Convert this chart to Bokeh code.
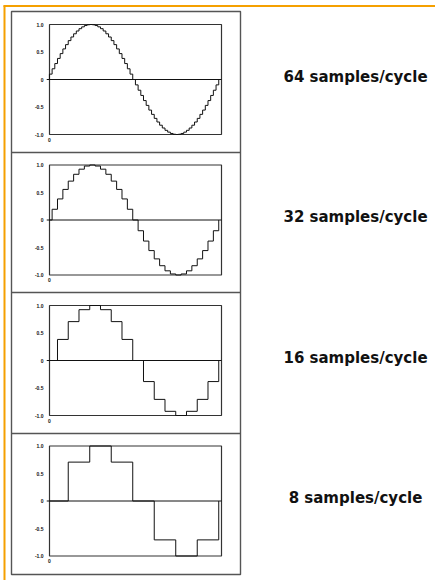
from bokeh.plotting import figure
from bokeh.models import (Range1d, FixedTicker, CustomJSTickFormatter, LinearAxis, Label)
from bokeh.embed import file_html
from bokeh.resources import INLINE

# ---------------- data ----------------
panel_labels = ["64 samples/cycle", "32 samples/cycle", "16 samples/cycle", "8 samples/cycle"]

samples_64 = [0.0, 0.098, 0.195, 0.290, 0.383, 0.471, 0.556, 0.634, 0.707, 0.773, 0.831,
              0.882, 0.924, 0.957, 0.981, 0.995, 1.0, 0.995, 0.981, 0.957, 0.924, 0.882,
              0.831, 0.773, 0.707, 0.634, 0.556, 0.471, 0.383, 0.290, 0.195, 0.098, 0.0,
              -0.098, -0.195, -0.290, -0.383, -0.471, -0.556, -0.634, -0.707, -0.773,
              -0.831, -0.882, -0.924, -0.957, -0.981, -0.995, -1.0, -0.995, -0.981,
              -0.957, -0.924, -0.882, -0.831, -0.773, -0.707, -0.634, -0.556, -0.471,
              -0.383, -0.290, -0.195, -0.098, 0.0]
samples_32 = [0.0, 0.195, 0.383, 0.556, 0.707, 0.831, 0.924, 0.981, 1.0, 0.981, 0.924,
              0.831, 0.707, 0.556, 0.383, 0.195, 0.0, -0.195, -0.383, -0.556, -0.707,
              -0.831, -0.924, -0.981, -1.0, -0.981, -0.924, -0.831, -0.707, -0.556,
              -0.383, -0.195, 0.0]
samples_16 = [0.0, 0.383, 0.707, 0.924, 1.0, 0.924, 0.707, 0.383, 0.0, -0.383, -0.707,
              -0.924, -1.0, -0.924, -0.707, -0.383, 0.0]
samples_8 = [0.0, 0.707, 1.0, 0.707, 0.0, -0.707, -1.0, -0.707, 0.0]

y_ticks = [-1.0, -0.5, 0.0, 0.5, 1.0]
x_tick_label = "0"

# ---------------- layout (page pixels) ----------------
W, H = 435, 580
FRAME_L, FRAME_W = 49, 172
FRAME_H = 110
frame_tops = [24, 164.5, 305, 445.5]
X0 = 0.016          # small offset of the cycle start against the frame

BOX_L, BOX_R, BOX_T, BOX_B = 11, 240, 11, 574
separators = [152, 292, 433]

p = figure(width=W, height=H, x_range=Range1d(0, W), y_range=Range1d(H, 0),
           min_border=0, toolbar_location=None, output_backend="svg",
           x_axis_location=None, y_axis_location=None,
           background_fill_color="white", border_fill_color="white",
           outline_line_color=None)
p.grid.visible = False

# the cycle axis shared by all panels
p.extra_x_ranges["cyc"] = Range1d(X0 + (0 - FRAME_L) / FRAME_W, X0 + (W - FRAME_L) / FRAME_W)

# orange page frame
p.segment(x0=[3, 4], y0=[5.5, 5], x1=[W, 4], y1=[5.5, H],
          line_color="#F5A000", line_width=2)

# outer box and separators
p.quad(left=[BOX_L], right=[BOX_R], top=[BOX_T], bottom=[BOX_B],
       fill_color=None, line_color="#555", line_width=1.4)
p.segment(x0=[BOX_L] * 3, x1=[BOX_R] * 3, y0=separators, y1=separators,
          line_color="#555", line_width=1.4)

all_samples = [samples_64, samples_32, samples_16, samples_8]

for i, vals in enumerate(all_samples):
    ft = frame_tops[i]
    yname = "y%d" % i

    def val(py, ft=ft):
        return 1 - (py - ft) * 2 / FRAME_H

    p.extra_y_ranges[yname] = Range1d(val(H), val(0))

    n = len(vals) - 1
    xs = [k / n for k in range(n + 1)]

    # plot frame
    p.quad(left=[X0], right=[1 + X0], bottom=[-1], top=[1],
           fill_color=None, line_color="#333", line_width=1.2,
           x_range_name="cyc", y_range_name=yname)
    # zero line
    p.segment(x0=[X0], x1=[1 + X0], y0=[0], y1=[0], line_color="#111", line_width=1,
              x_range_name="cyc", y_range_name=yname)
    # sampled sine
    p.step(xs, vals, mode="after", line_color="#111", line_width=1,
           x_range_name="cyc", y_range_name=yname)

    yax = LinearAxis(x_range_name="cyc", y_range_name=yname, fixed_location=X0,
                     ticker=FixedTicker(ticks=y_ticks),
                     formatter=CustomJSTickFormatter(
                         code="return tick == 0 ? '0' : tick.toFixed(1);"),
                     axis_line_color=None, major_tick_line_color=None,
                     major_tick_in=0, major_tick_out=0,
                     minor_tick_line_color=None, minor_tick_in=0, minor_tick_out=0,
                     major_label_standoff=6,
                     major_label_text_font="Liberation Sans",
                     major_label_text_font_size="5px",
                     major_label_text_font_style="bold",
                     major_label_text_color="#111")
    p.add_layout(yax, "left")

    xax = LinearAxis(x_range_name="cyc", y_range_name=yname, fixed_location=-1,
                     ticker=FixedTicker(ticks=[X0]),
                     formatter=CustomJSTickFormatter(code="return '%s';" % x_tick_label),
                     axis_line_color=None, major_tick_line_color=None,
                     major_tick_in=0, major_tick_out=0,
                     minor_tick_line_color=None, minor_tick_in=0, minor_tick_out=0,
                     major_label_standoff=3,
                     major_label_text_font="Liberation Sans",
                     major_label_text_font_size="5px",
                     major_label_text_font_style="bold",
                     major_label_text_color="#111")
    p.add_layout(xax, "below")

    p.add_layout(Label(x=355, y=0.05, y_range_name=yname, text=panel_labels[i],
                       text_align="center", text_baseline="middle",
                       text_font="DejaVu Sans", text_font_size="15px",
                       text_font_style="bold", text_color="#111"))

open("out.html", "w").write(file_html(p, INLINE))
